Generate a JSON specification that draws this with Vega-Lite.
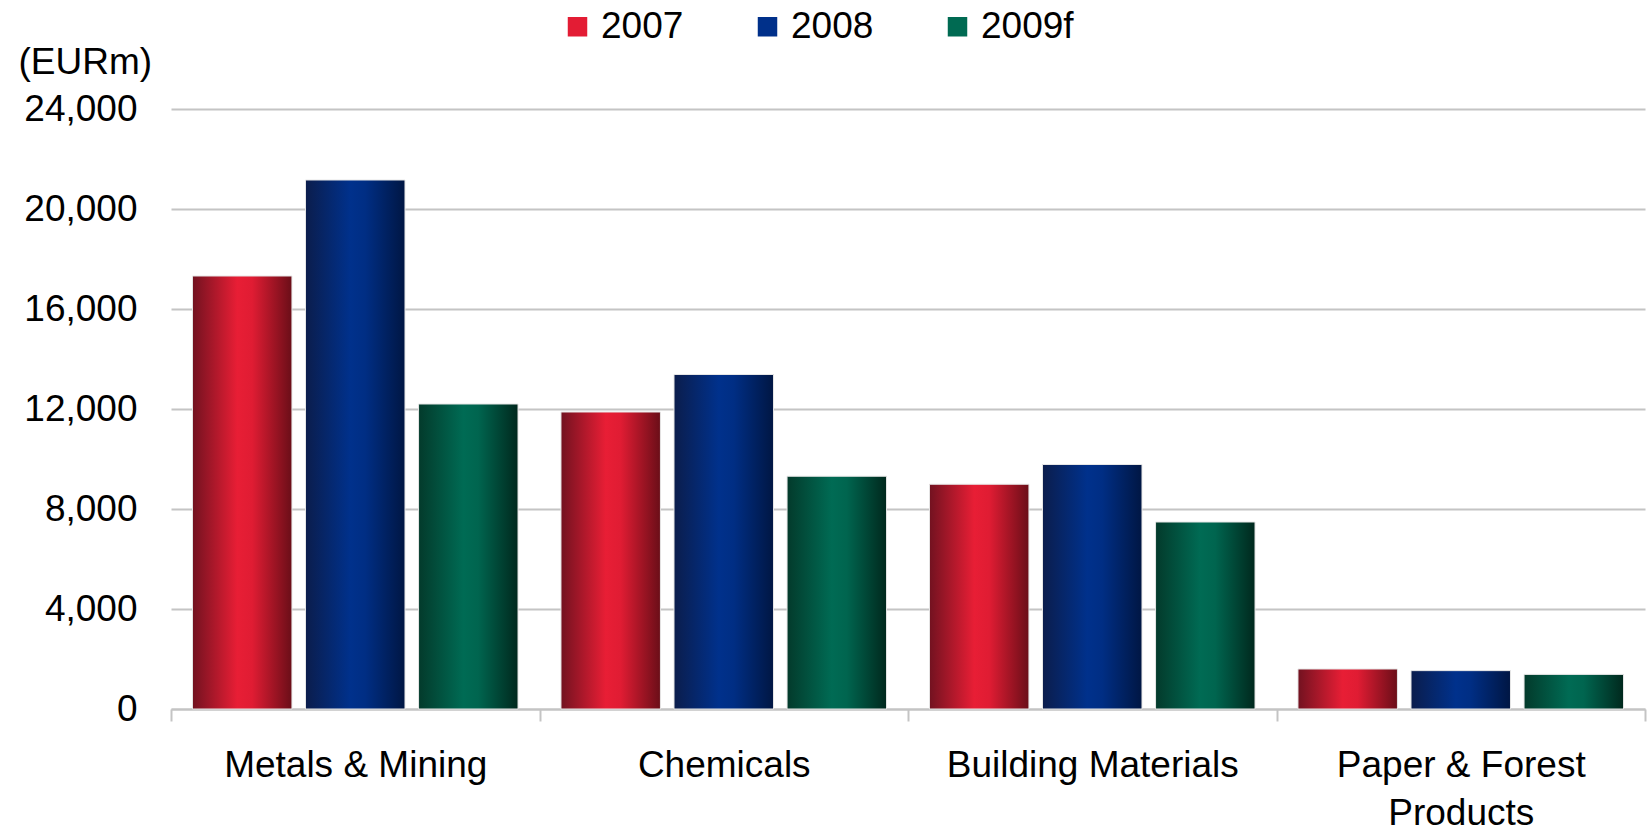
{
  "$schema": "https://vega.github.io/schema/vega-lite/v6.json",
  "autosize": {"type": "none"},
  "width": 1474,
  "height": 600,
  "padding": {"left": 171, "top": 109, "right": 6, "bottom": 119},
  "background": "#ffffff",
  "config": {
    "font": "Liberation Sans",
    "view": {"stroke": null},
    "axis": {"labelColor": "#000000", "labelFont": "Liberation Sans", "titleFont": "Liberation Sans"}
  },
  "data": {
    "values": [
      {"sector": "Metals & Mining", "year": "2007", "value": 17320},
      {"sector": "Metals & Mining", "year": "2008", "value": 21160},
      {"sector": "Metals & Mining", "year": "2009f", "value": 12200},
      {"sector": "Chemicals", "year": "2007", "value": 11880},
      {"sector": "Chemicals", "year": "2008", "value": 13380},
      {"sector": "Chemicals", "year": "2009f", "value": 9310},
      {"sector": "Building Materials", "year": "2007", "value": 8990},
      {"sector": "Building Materials", "year": "2008", "value": 9780},
      {"sector": "Building Materials", "year": "2009f", "value": 7480},
      {"sector": "Paper & Forest Products", "year": "2007", "value": 1600},
      {"sector": "Paper & Forest Products", "year": "2008", "value": 1535},
      {"sector": "Paper & Forest Products", "year": "2009f", "value": 1385}
    ]
  },
  "mark": {"type": "bar", "stroke": "#e6e6e6", "strokeWidth": 1},
  "encoding": {
    "x": {
      "field": "sector",
      "type": "nominal",
      "sort": ["Metals & Mining", "Chemicals", "Building Materials", "Paper & Forest Products"],
      "scale": {"paddingInner": 0, "paddingOuter": 0},
      "axis": {
        "title": null,
        "labelAngle": 0,
        "labelFontSize": 37,
        "labelBaseline": "top",
        "labelPadding": 26,
        "labelLineHeight": 48,
        "labelLimit": 0,
        "labelExpr": "datum.label == 'Paper & Forest Products' ? ['Paper & Forest', 'Products'] : datum.label",
        "tickBand": "extent",
        "tickSize": 12,
        "tickWidth": 2,
        "tickColor": "#c4c4c4",
        "domainColor": "#c4c4c4",
        "domainWidth": 2,
        "grid": false
      }
    },
    "xOffset": {
      "field": "year",
      "type": "nominal",
      "sort": ["2007", "2008", "2009f"],
      "scale": {"paddingInner": 0.12, "paddingOuter": 0.19}
    },
    "y": {
      "field": "value",
      "type": "quantitative",
      "scale": {"domain": [0, 24000], "nice": false},
      "axis": {
        "title": "(EURm)",
        "titleAngle": 0,
        "titleAlign": "left",
        "titleBaseline": "alphabetic",
        "titleX": -153,
        "titleY": -36,
        "titleFontSize": 37,
        "titleFontWeight": "normal",
        "titleColor": "#000000",
        "values": [0, 4000, 8000, 12000, 16000, 20000, 24000],
        "format": ",.0f",
        "labelFontSize": 37,
        "labelPadding": 34,
        "ticks": false,
        "domain": false,
        "grid": true,
        "gridColor": "#c4c4c4",
        "gridWidth": 2
      }
    },
    "color": {
      "field": "year",
      "type": "nominal",
      "sort": ["2007", "2008", "2009f"],
      "scale": {"domain": ["2007", "2008", "2009f"], "range": ["#e31c34", "#00308a", "#006a52"]},
      "condition": [
        {"test": "datum.year === '2007'", "value": {"gradient": "linear", "x1": 0, "x2": 1, "y1": 0, "y2": 0, "stops": [{"offset": 0, "color": "#721220"}, {"offset": 0.45, "color": "#e81e35"}, {"offset": 0.6, "color": "#e01c33"}, {"offset": 1, "color": "#6a0e18"}]}},
        {"test": "datum.year === '2008'", "value": {"gradient": "linear", "x1": 0, "x2": 1, "y1": 0, "y2": 0, "stops": [{"offset": 0, "color": "#0b1d4c"}, {"offset": 0.45, "color": "#00318c"}, {"offset": 0.6, "color": "#002e84"}, {"offset": 1, "color": "#001643"}]}},
        {"test": "datum.year === '2009f'", "value": {"gradient": "linear", "x1": 0, "x2": 1, "y1": 0, "y2": 0, "stops": [{"offset": 0, "color": "#033a2b"}, {"offset": 0.45, "color": "#006b54"}, {"offset": 0.6, "color": "#00654f"}, {"offset": 1, "color": "#00281d"}]}}
      ],
      "legend": {
        "title": null,
        "orient": "none",
        "direction": "horizontal",
        "legendX": 388,
        "legendY": -101,
        "padding": 0,
        "symbolType": "square",
        "symbolSize": 380,
        "symbolStrokeWidth": 0,
        "labelFontSize": 37,
        "labelColor": "#000000",
        "labelOffset": 5,
        "columnPadding": 65,
        "encode": {
          "symbols": {
            "update": {
              "fill": {"signal": "datum.value === '2007' ? {gradient: 'linear', x1: 0, x2: 1, y1: 0, y2: 0, stops: [{offset: 0, color: '#721220'}, {offset: 0.45, color: '#e81e35'}, {offset: 1, color: '#6a0e18'}]} : datum.value === '2008' ? {gradient: 'linear', x1: 0, x2: 1, y1: 0, y2: 0, stops: [{offset: 0, color: '#0b1d4c'}, {offset: 0.45, color: '#00318c'}, {offset: 1, color: '#001643'}]} : {gradient: 'linear', x1: 0, x2: 1, y1: 0, y2: 0, stops: [{offset: 0, color: '#033a2b'}, {offset: 0.45, color: '#006b54'}, {offset: 1, color: '#00281d'}]}"}
            }
          }
        }
      }
    }
  }
}
